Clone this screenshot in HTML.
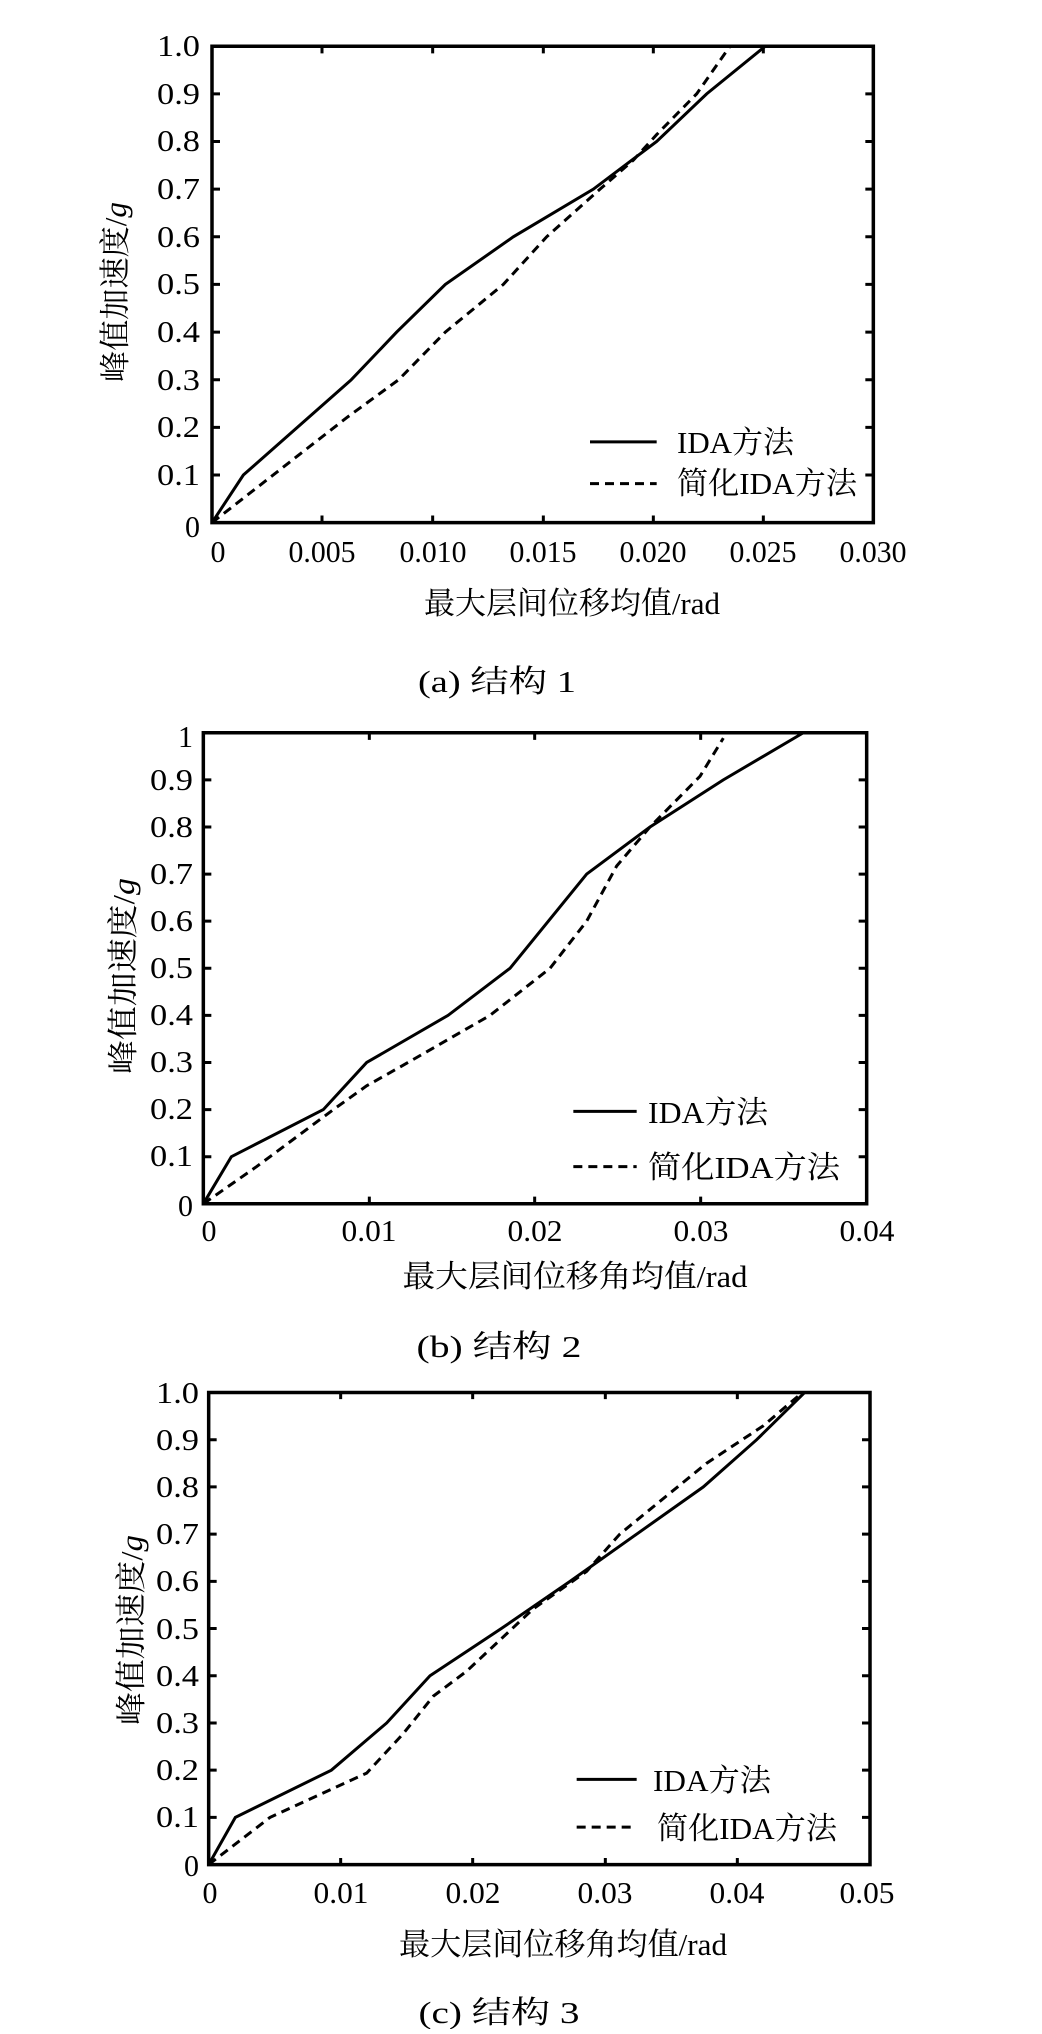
<!DOCTYPE html>
<html><head><meta charset="utf-8"><style>
html,body{margin:0;padding:0;background:#fff;overflow:hidden;}
svg text{font-family:"Liberation Serif","Noto Serif CJK SC","Noto Sans CJK SC",serif;fill:#000;}
.s *{vector-effect:non-scaling-stroke;}
</style></head><body>
<svg width="1042" height="2029" viewBox="0 0 1042 2029" xmlns="http://www.w3.org/2000/svg">
<g class="s" transform="translate(0,0) scale(0.66667,0.44863)">
<rect x="318" y="103" width="992" height="1062" fill="none" stroke="#000" stroke-width="3.5"/>
<g stroke="#000" stroke-width="3">
<path d="M318 209.2h12M318 315.4h12M318 421.6h12M318 527.8h12M318 634h12M318 740.2h12M318 846.4h12M318 952.6h12M318 1058.8h12"/>
<path d="M1310 209.2h-12M1310 315.4h-12M1310 421.6h-12M1310 527.8h-12M1310 634h-12M1310 740.2h-12M1310 846.4h-12M1310 952.6h-12M1310 1058.8h-12"/>
<path d="M483 1165v-16M649 1165v-16M815 1165v-16M980 1165v-16M1145 1165v-16M483 103v16M649 103v16M815 103v16M980 103v16M1145 103v16"/>
</g>
<polyline fill="none" stroke="#000" stroke-width="3" points="318,1165 365,1058.8 527,846.4 595,740.2 668,634 770,527.8 890,421.6 985,315.4 1060,209.2 1148,103"/>
<polyline fill="none" stroke="#000" stroke-width="3" stroke-dasharray="9,6" points="318,1165 520,931 598,846.4 668,740.2 755,634 820,527.8 900,421.6 950,357 985,300 1045,209.2 1095,103"/>
<line x1="885" y1="985" x2="985" y2="985" stroke="#000" stroke-width="3"/>
<line x1="885" y1="1078" x2="985" y2="1078" stroke="#000" stroke-width="3" stroke-dasharray="9,6"/>
</g>
<g font-size="31">
<g text-anchor="end">
<text x="200" y="56" textLength="43" lengthAdjust="spacingAndGlyphs">1.0</text>
<text x="200" y="104" textLength="43" lengthAdjust="spacingAndGlyphs">0.9</text>
<text x="200" y="151" textLength="43" lengthAdjust="spacingAndGlyphs">0.8</text>
<text x="200" y="199" textLength="43" lengthAdjust="spacingAndGlyphs">0.7</text>
<text x="200" y="247" textLength="43" lengthAdjust="spacingAndGlyphs">0.6</text>
<text x="200" y="294" textLength="43" lengthAdjust="spacingAndGlyphs">0.5</text>
<text x="200" y="342" textLength="43" lengthAdjust="spacingAndGlyphs">0.4</text>
<text x="200" y="390" textLength="43" lengthAdjust="spacingAndGlyphs">0.3</text>
<text x="200" y="437" textLength="43" lengthAdjust="spacingAndGlyphs">0.2</text>
<text x="200" y="485" textLength="43" lengthAdjust="spacingAndGlyphs">0.1</text>
<text x="200" y="537" textLength="15" lengthAdjust="spacingAndGlyphs">0</text>
</g>
<g text-anchor="middle">
<text x="218" y="562" textLength="15" lengthAdjust="spacingAndGlyphs">0</text>
<text x="322" y="562" textLength="67" lengthAdjust="spacingAndGlyphs">0.005</text>
<text x="433" y="562" textLength="67" lengthAdjust="spacingAndGlyphs">0.010</text>
<text x="543" y="562" textLength="67" lengthAdjust="spacingAndGlyphs">0.015</text>
<text x="653" y="562" textLength="67" lengthAdjust="spacingAndGlyphs">0.020</text>
<text x="763" y="562" textLength="67" lengthAdjust="spacingAndGlyphs">0.025</text>
<text x="873" y="562" textLength="67" lengthAdjust="spacingAndGlyphs">0.030</text>
</g>
<text x="677" y="453" textLength="117" lengthAdjust="spacingAndGlyphs">IDA方法</text>
<text x="677" y="494" textLength="180" lengthAdjust="spacingAndGlyphs">简化IDA方法</text>
<text transform="translate(126,292) rotate(-90)" text-anchor="middle" textLength="180" lengthAdjust="spacingAndGlyphs">峰值加速度/<tspan font-style="italic">g</tspan></text>
<text x="572" y="614" text-anchor="middle" textLength="296" lengthAdjust="spacingAndGlyphs">最大层间位移均值/rad</text>
<text x="497" y="692" text-anchor="middle" textLength="158" lengthAdjust="spacingAndGlyphs">(a)  结构 1</text>
</g>

<g class="s" transform="translate(0,700) scale(0.66667,0.44863)">
<rect x="305" y="73" width="995" height="1050" fill="none" stroke="#000" stroke-width="3.5"/>
<g stroke="#000" stroke-width="3">
<path d="M305 178h12M305 283h12M305 388h12M305 493h12M305 598h12M305 703h12M305 808h12M305 913h12M305 1018h12"/>
<path d="M1300 178h-12M1300 283h-12M1300 388h-12M1300 493h-12M1300 598h-12M1300 703h-12M1300 808h-12M1300 913h-12M1300 1018h-12"/>
<path d="M554 1123v-16M802 1123v-16M1051 1123v-16M554 73v16M802 73v16M1051 73v16"/>
</g>
<polyline fill="none" stroke="#000" stroke-width="3" points="305,1123 347,1018 485,913 550,808 672,703 765,598 880,388 975,283 1085,178 1205,73"/>
<polyline fill="none" stroke="#000" stroke-width="3" stroke-dasharray="9,6" points="305,1123 385,1040 500,913 550,860 612,808 735,703 825,598 880,493 925,370 975,283 1050,170 1085,85"/>
<line x1="860" y1="917" x2="955" y2="917" stroke="#000" stroke-width="3"/>
<line x1="860" y1="1040" x2="955" y2="1040" stroke="#000" stroke-width="3" stroke-dasharray="9,6"/>
</g>
<g font-size="31">
<g text-anchor="end">
<text x="193" y="747" textLength="15" lengthAdjust="spacingAndGlyphs">1</text>
<text x="193" y="790" textLength="43" lengthAdjust="spacingAndGlyphs">0.9</text>
<text x="193" y="837" textLength="43" lengthAdjust="spacingAndGlyphs">0.8</text>
<text x="193" y="884" textLength="43" lengthAdjust="spacingAndGlyphs">0.7</text>
<text x="193" y="931" textLength="43" lengthAdjust="spacingAndGlyphs">0.6</text>
<text x="193" y="978" textLength="43" lengthAdjust="spacingAndGlyphs">0.5</text>
<text x="193" y="1025" textLength="43" lengthAdjust="spacingAndGlyphs">0.4</text>
<text x="193" y="1072" textLength="43" lengthAdjust="spacingAndGlyphs">0.3</text>
<text x="193" y="1119" textLength="43" lengthAdjust="spacingAndGlyphs">0.2</text>
<text x="193" y="1166" textLength="43" lengthAdjust="spacingAndGlyphs">0.1</text>
<text x="193" y="1216" textLength="15" lengthAdjust="spacingAndGlyphs">0</text>
</g>
<g text-anchor="middle">
<text x="209" y="1241" textLength="15" lengthAdjust="spacingAndGlyphs">0</text>
<text x="369" y="1241" textLength="55" lengthAdjust="spacingAndGlyphs">0.01</text>
<text x="535" y="1241" textLength="55" lengthAdjust="spacingAndGlyphs">0.02</text>
<text x="701" y="1241" textLength="55" lengthAdjust="spacingAndGlyphs">0.03</text>
<text x="867" y="1241" textLength="55" lengthAdjust="spacingAndGlyphs">0.04</text>
</g>
<text x="648" y="1123" textLength="120" lengthAdjust="spacingAndGlyphs">IDA方法</text>
<text x="648" y="1178" textLength="192" lengthAdjust="spacingAndGlyphs">简化IDA方法</text>
<text transform="translate(134,976) rotate(-90)" text-anchor="middle" textLength="196" lengthAdjust="spacingAndGlyphs">峰值加速度/<tspan font-style="italic">g</tspan></text>
<text x="575" y="1287" text-anchor="middle" textLength="345" lengthAdjust="spacingAndGlyphs">最大层间位移角均值/rad</text>
<text x="499" y="1357" text-anchor="middle" textLength="165" lengthAdjust="spacingAndGlyphs">(b)  结构 2</text>
</g>

<g class="s" transform="translate(0,1380) scale(0.66667,0.41597)">
<rect x="313" y="30" width="992" height="1135" fill="none" stroke="#000" stroke-width="3.5"/>
<g stroke="#000" stroke-width="3">
<path d="M313 143.5h12M313 257h12M313 370.5h12M313 484h12M313 597.5h12M313 711h12M313 824.5h12M313 938h12M313 1051.5h12"/>
<path d="M1305 143.5h-12M1305 257h-12M1305 370.5h-12M1305 484h-12M1305 597.5h-12M1305 711h-12M1305 824.5h-12M1305 938h-12M1305 1051.5h-12"/>
<path d="M511 1165v-16M709 1165v-16M908 1165v-16M1106 1165v-16M511 30v16M709 30v16M908 30v16M1106 30v16"/>
</g>
<polyline fill="none" stroke="#000" stroke-width="3" points="313,1165 353,1051.5 497,938 580,824.5 645,711 752,597.5 855,484 1055,257 1135,143.5 1207,30"/>
<polyline fill="none" stroke="#000" stroke-width="3" stroke-dasharray="9,6" points="313,1165 405,1051.5 550,945 605,850 650,760 700,700 800,550 880,460 930,370 1060,200 1145,110 1200,35"/>
<line x1="865" y1="960" x2="955" y2="960" stroke="#000" stroke-width="3"/>
<line x1="865" y1="1075" x2="955" y2="1075" stroke="#000" stroke-width="3" stroke-dasharray="9,6"/>
</g>
<g font-size="31">
<g text-anchor="end">
<text x="199" y="1403" textLength="43" lengthAdjust="spacingAndGlyphs">1.0</text>
<text x="199" y="1450" textLength="43" lengthAdjust="spacingAndGlyphs">0.9</text>
<text x="199" y="1497" textLength="43" lengthAdjust="spacingAndGlyphs">0.8</text>
<text x="199" y="1544" textLength="43" lengthAdjust="spacingAndGlyphs">0.7</text>
<text x="199" y="1591" textLength="43" lengthAdjust="spacingAndGlyphs">0.6</text>
<text x="199" y="1639" textLength="43" lengthAdjust="spacingAndGlyphs">0.5</text>
<text x="199" y="1686" textLength="43" lengthAdjust="spacingAndGlyphs">0.4</text>
<text x="199" y="1733" textLength="43" lengthAdjust="spacingAndGlyphs">0.3</text>
<text x="199" y="1780" textLength="43" lengthAdjust="spacingAndGlyphs">0.2</text>
<text x="199" y="1827" textLength="43" lengthAdjust="spacingAndGlyphs">0.1</text>
<text x="199" y="1876" textLength="15" lengthAdjust="spacingAndGlyphs">0</text>
</g>
<g text-anchor="middle">
<text x="210" y="1903" textLength="15" lengthAdjust="spacingAndGlyphs">0</text>
<text x="341" y="1903" textLength="55" lengthAdjust="spacingAndGlyphs">0.01</text>
<text x="473" y="1903" textLength="55" lengthAdjust="spacingAndGlyphs">0.02</text>
<text x="605" y="1903" textLength="55" lengthAdjust="spacingAndGlyphs">0.03</text>
<text x="737" y="1903" textLength="55" lengthAdjust="spacingAndGlyphs">0.04</text>
<text x="867" y="1903" textLength="55" lengthAdjust="spacingAndGlyphs">0.05</text>
</g>
<text x="653" y="1791" textLength="118" lengthAdjust="spacingAndGlyphs">IDA方法</text>
<text x="657" y="1839" textLength="180" lengthAdjust="spacingAndGlyphs">简化IDA方法</text>
<text transform="translate(142,1630) rotate(-90)" text-anchor="middle" textLength="190" lengthAdjust="spacingAndGlyphs">峰值加速度/<tspan font-style="italic">g</tspan></text>
<text x="563" y="1955" text-anchor="middle" textLength="328" lengthAdjust="spacingAndGlyphs">最大层间位移角均值/rad</text>
<text x="499" y="2023" text-anchor="middle" textLength="161" lengthAdjust="spacingAndGlyphs">(c)  结构 3</text>
</g>
</svg>
</body></html>
